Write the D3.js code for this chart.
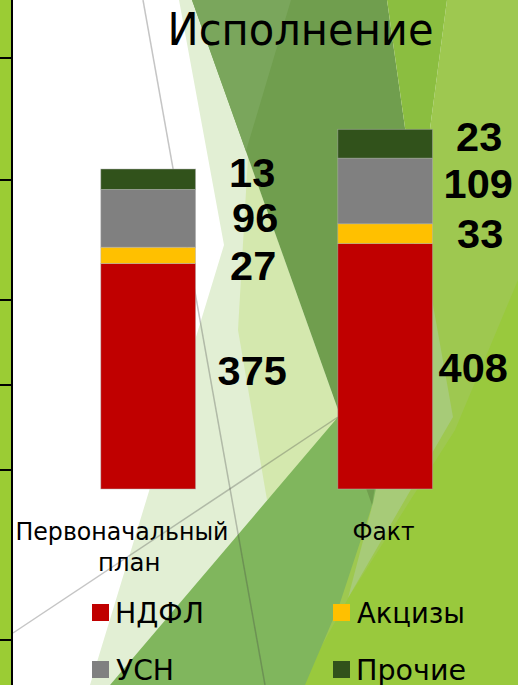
<!DOCTYPE html>
<html><head><meta charset="utf-8">
<script src="https://cdn.jsdelivr.net/npm/d3@7"></script>
<style>html,body{margin:0;padding:0;background:#fff;overflow:hidden}</style>
</head><body>
<script>
// ---- data ----
const title = "Исполнение";
const categories = ["Первоначальный план", "Факт"];
const categoryLines = [["Первоначальный", "план"], ["Факт"]];
const seriesNames = ["НДФЛ", "Акцизы", "УСН", "Прочие"];
const ndfl   = [375, 408];
const akcizy = [27, 33];
const usn    = [96, 109];
const prochie = [34, 48];          // drawn height of the "Прочие" segment as pictured
const labelNdfl = ["375", "408"];
const labelAkcizy = ["27", "33"];
const labelUsn = ["96", "109"];
const labelProchie = ["13", "23"];
const colors = ["#C00000", "#FFC000", "#808080", "#31521B"];

// ---- setup ----
const W = 518, H = 685;
const svg = d3.select("body").append("svg").attr("width", W).attr("height", H);

// background facets (decoration)
const bg = svg.append("g");
bg.append("rect").attr("width", W).attr("height", H).attr("fill", "#fff");
const facets = [
  {c:"#E2EFD4", p:[[179,0],[260,0],[400,480],[110,685],[90,685],[224,245]]},
  {c:"#D4E8AE", p:[[248,157],[338,410],[345,430],[267,500],[238,330]]},
  {c:"#9EC850", p:[[447,0],[518,0],[518,685],[300,685],[372,505],[418,220]]},
  {c:"#99C93D", p:[[518,280],[518,685],[300,685],[350,595],[455,430]]},
  {c:"#80B65D", p:[[338,417],[400,480],[373,503],[340,603],[305,685],[110,685]]},
  {c:"#A7CB78", p:[[425,260],[453,417],[348,598],[373,503],[390,420]]},
  {c:"#709E4E", p:[[192,0],[387,0],[418,220],[372,505]]},
  {c:"#7AA65C", p:[[192,0],[291,0],[246,151]]},
  {c:"#8BBE40", p:[[387,0],[447,0],[418,220]]}
];
const line = d3.line();
bg.selectAll("path.facet").data(facets).join("path")
  .attr("d", d => line(d.p) + "Z").attr("fill", d => d.c);
const rules = [[[143,0],[265,685]], [[13,633],[338,417]]];
bg.selectAll("path.rule").data(rules).join("path")
  .attr("d", d => line(d)).attr("stroke", "rgba(64,64,64,0.3)").attr("stroke-width", 1.5).attr("fill", "none");
// left strip
bg.append("rect").attr("x", 0).attr("y", 0).attr("width", 12).attr("height", H).attr("fill", "#9BCC34");
bg.append("line").attr("x1", 12).attr("x2", 12).attr("y1", 0).attr("y2", H).attr("stroke", "#000").attr("stroke-width", 2);
[58, 180, 300, 385, 470, 640].forEach(t => {
  bg.append("line").attr("x1", 0).attr("x2", 13).attr("y1", t).attr("y2", t).attr("stroke", "#000").attr("stroke-width", 2);
});

// ---- scales ----
const x = d3.scaleBand().domain(categories).range([29.7, 503.7]).paddingInner(0.6).paddingOuter(0.3);
const y = d3.scaleLinear().domain([0, 600]).range([489, 128.1]);

const table = categories.map((c, i) => ({cat: c, "НДФЛ": ndfl[i], "Акцизы": akcizy[i], "УСН": usn[i], "Прочие": prochie[i]}));
const stacked = d3.stack().keys(seriesNames)(table);
const labels = [labelNdfl, labelAkcizy, labelUsn, labelProchie];

// bars
const gBars = svg.append("g");
stacked.forEach((s, j) => {
  gBars.selectAll(null).data(s).join("rect")
    .attr("x", d => x(d.data.cat))
    .attr("y", d => y(d[1]))
    .attr("width", x.bandwidth())
    .attr("height", d => y(d[0]) - y(d[1]))
    .attr("fill", colors[j])
    .attr("stroke", "rgba(180,180,180,0.6)").attr("stroke-width", 0.8);
});

// value labels
const labelDx = [[104, 88], [105, 95], [107, 93], [104, 94]];
const labelDy = [[-5.8, 0.8], [9.5, -1], [-1.6, -8], [-7.3, -7.3]];
const fs = 41.5;
stacked.forEach((s, j) => {
  s.forEach((d, i) => {
    const cx = x(d.data.cat) + x.bandwidth() / 2 + labelDx[j][i];
    const cy = (y(d[0]) + y(d[1])) / 2 + labelDy[j][i];
    svg.append("text").text(labels[j][i])
      .attr("x", cx).attr("y", cy + 0.358 * fs)
      .attr("text-anchor", "middle")
      .attr("font-family", "Liberation Sans, Arial, sans-serif").attr("font-weight", "bold").attr("font-size", fs)
      .attr("fill", "#000");
  });
});

// category labels
const catLayout = [[{dx: -26.2, len: 213, base: 540}, {dx: -18.9, len: 62.5, base: 571}], [{dx: -1.7, len: 62, base: 540}]];
categories.forEach((c, i) => {
  categoryLines[i].forEach((t, k) => {
    const L = catLayout[i][k];
    const cx = x(c) + x.bandwidth() / 2 + L.dx;
    svg.append("text").text(t)
      .attr("x", cx - L.len / 2).attr("y", L.base)
      .attr("font-family", "DejaVu Sans").attr("font-size", 25)
      .attr("textLength", L.len).attr("lengthAdjust", "spacingAndGlyphs").attr("fill", "#000");
  });
});

// title
svg.append("text").text(title)
  .attr("x", 167.5).attr("y", 45)
  .attr("font-family", "DejaVu Sans").attr("font-size", 45)
  .attr("textLength", 266).attr("lengthAdjust", "spacingAndGlyphs").attr("fill", "#000");

// legend
const legendPos = [{x: 92, y: 604, tx: 115, len: 89}, {x: 333, y: 604, tx: 357, len: 108},
                   {x: 92, y: 661, tx: 116, len: 58}, {x: 333, y: 661, tx: 356, len: 110}];
seriesNames.forEach((n, j) => {
  const p = legendPos[j];
  svg.append("rect").attr("x", p.x).attr("y", p.y).attr("width", 17).attr("height", 17).attr("fill", colors[j]);
  svg.append("text").text(n)
    .attr("x", p.tx).attr("y", p.y + 19)
    .attr("font-family", "DejaVu Sans").attr("font-size", 27.5)
    .attr("textLength", p.len).attr("lengthAdjust", "spacingAndGlyphs").attr("fill", "#000");
});
</script>
</body></html>
